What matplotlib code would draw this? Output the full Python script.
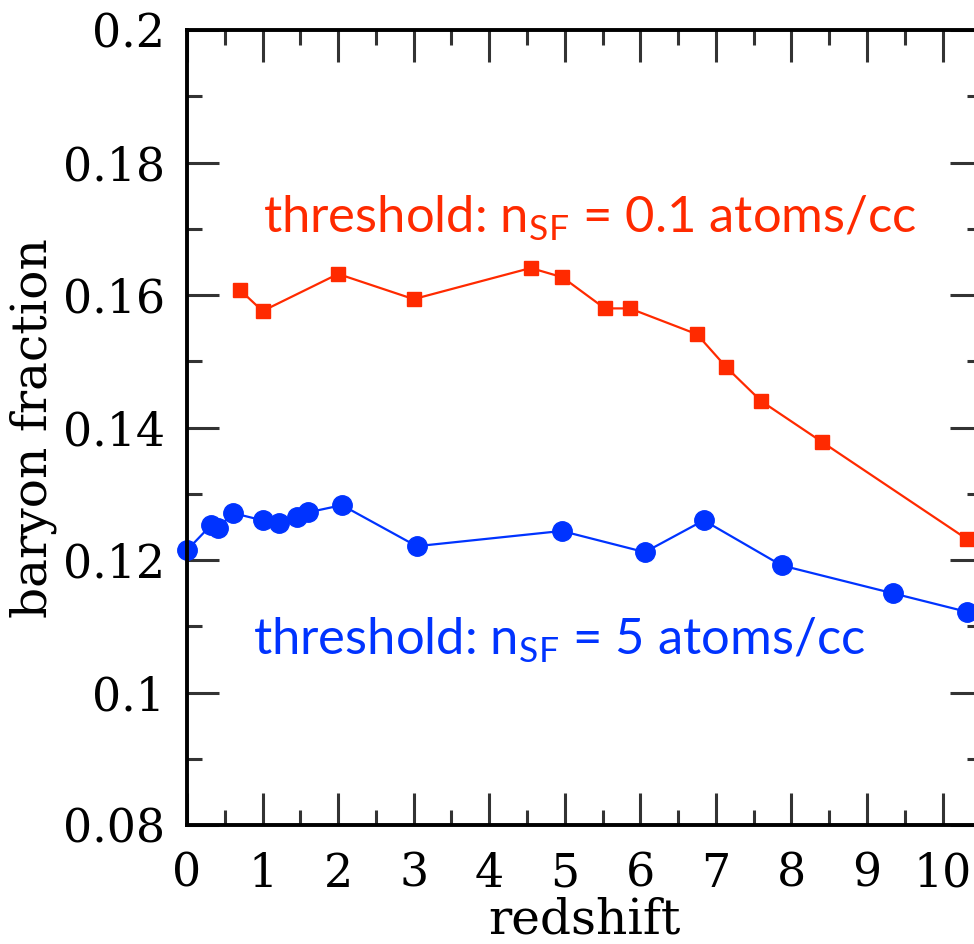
import matplotlib
matplotlib.use("Agg")
import matplotlib.pyplot as plt
from matplotlib.ticker import MultipleLocator

# data
z_low = [0.70, 1.0, 2.0, 3.0, 4.55, 4.97, 5.53, 5.86, 6.75, 7.14, 7.60, 8.41, 10.32]
fb_low = [0.1608, 0.1576, 0.1632, 0.1594, 0.1641, 0.1627, 0.1580, 0.1580, 0.1541, 0.1491, 0.1440, 0.1378, 0.1232]

z_high = [0.0, 0.32, 0.41, 0.61, 1.0, 1.22, 1.45, 1.60, 2.05, 3.04, 4.96, 6.06, 6.84, 7.87, 9.34, 10.32]
fb_high = [0.1215, 0.1253, 0.1248, 0.1271, 0.1260, 0.1256, 0.1265, 0.1272, 0.1283, 0.1221, 0.1244, 0.1212, 0.1260, 0.1192, 0.1150, 0.1122]

xticks = list(range(0, 11))
yticks = [0.08, 0.1, 0.12, 0.14, 0.16, 0.18, 0.2]
ytick_labels = ['0.08', '0.1', '0.12', '0.14', '0.16', '0.18', '0.2']

red = '#ff2a00'
blue = '#0033ff'

plt.rcParams['font.family'] = ['DejaVu Serif']
plt.rcParams['mathtext.fontset'] = 'custom'
plt.rcParams['mathtext.rm'] = 'Lato'

fig = plt.figure(figsize=(9.74, 9.44), dpi=100)
ax = fig.add_axes([0.192, 0.126, 0.816, 0.842])

ax.plot(z_low, fb_low, color=red, lw=1.6, marker='s', ms=10.5, mec=red, mfc=red, clip_on=False)
ax.plot(z_high, fb_high, color=blue, lw=1.6, marker='o', ms=14, mec=blue, mfc=blue, clip_on=False)

ax.set_xlim(0, 10.52)
ax.set_ylim(0.08, 0.2)
ax.set_xticks(xticks)
ax.set_yticks(yticks)
ax.set_yticklabels(ytick_labels)
ax.xaxis.set_minor_locator(MultipleLocator(0.5))
ax.yaxis.set_minor_locator(MultipleLocator(0.01))
ax.tick_params(which='both', direction='in', top=True, right=True, color='#333333', width=2.2)
ax.tick_params(which='major', length=23, labelsize=33, pad=16)
ax.tick_params(axis='x', which='major', pad=19)
ax.tick_params(which='minor', length=11)
for s in ax.spines.values():
    s.set_linewidth(2.8)

ax.set_xlabel('redshift', fontsize=35, labelpad=0)
ax.set_ylabel('baryon fraction', fontsize=35, labelpad=4)

ax.text(1.0, 0.1694, r'threshold: n$_{\mathrm{SF}}$ = 0.1 atoms/cc', color=red,
        fontsize=36.5, family='Lato', va='baseline', ha='left')
ax.text(0.88, 0.1057, r'threshold: n$_{\mathrm{SF}}$ = 5 atoms/cc', color=blue,
        fontsize=36.5, family='Lato', va='baseline', ha='left')

fig.savefig('out.png', dpi=100)
